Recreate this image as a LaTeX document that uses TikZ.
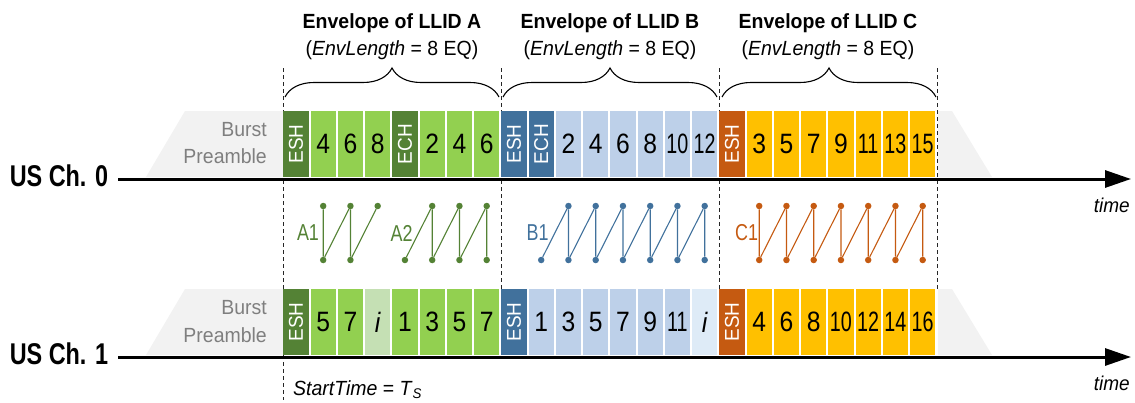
\documentclass[tikz,border=0pt]{standalone}
\usepackage{fontspec}
\usepackage{graphicx}
\setmainfont{Liberation Sans}
\newfontfamily\lsans{Liberation Sans}[FakeStretch=0.95]
\newfontfamily\chfont{Liberation Sans}[FakeStretch=0.78]
\newfontfamily\numfont{Liberation Sans}[FakeStretch=0.88]
\usetikzlibrary{arrows.meta,decorations.pathreplacing}
\definecolor{gD}{HTML}{548235}
\definecolor{gL}{HTML}{92D050}
\definecolor{gI}{HTML}{C5E0B4}
\definecolor{bD}{HTML}{41719C}
\definecolor{bL}{HTML}{BDD0E9}
\definecolor{bI}{HTML}{DEEBF7}
\definecolor{oD}{HTML}{C55A11}
\definecolor{yL}{HTML}{FFC000}
\definecolor{pre}{HTML}{F2F2F2}
\definecolor{txtgray}{HTML}{7F7F7F}
\newcommand{\rt}[1]{{\color{white}\lsans\fontsize{20}{20}\selectfont\rotatebox{90}{#1}}}
\newcommand{\tw}[1]{\scalebox{0.8}[1]{#1}}
\newcommand{\ii}{\itshape i}
\tikzset{
  cellbox/.style={minimum width=25.3pt, minimum height=66pt, inner sep=0pt, anchor=center,
    font=\numfont\fontsize{28}{28}\selectfont},
  envtitle/.style={font=\lsans\bfseries\fontsize{20.5}{22}\selectfont, anchor=base, inner sep=0pt},
  envsub/.style={font=\lsans\fontsize{20.5}{22}\selectfont, anchor=base, inner sep=0pt},
  chlabel/.style={font=\chfont\bfseries\fontsize{30}{30}\selectfont, inner sep=0pt},
  pretext/.style={font=\lsans\fontsize{20.5}{22}\selectfont, text=txtgray, anchor=base east, inner sep=0pt},
  timelabel/.style={font=\lsans\itshape\fontsize{20}{22}\selectfont, anchor=base east, inner sep=0pt},
  axisline/.style={line width=3pt, -{Triangle[length=26pt,width=17pt]}},
  vdash/.style={line width=0.9pt, black!85, dash pattern=on 4pt off 3pt},
  envbrace/.style={line width=1.1pt, decorate, decoration={brace, amplitude=29pt}},
  dot/.style={circle, fill=#1, inner sep=0pt, minimum size=6.5pt},
  zig/.style={draw=#1, line width=1.1pt},
  ziglabel/.style={font=\chfont\fontsize{23}{23}\selectfont, text=#1, inner sep=0pt},
}
\begin{document}
\begin{tikzpicture}[x=1pt,y=-1pt]
\useasboundingbox (0,0) rectangle (1135,402);
% burst preambles
\foreach \dy in {0,178}{
  \fill[pre] (146,177+\dy) -- (185,111+\dy) -- (283.3,111+\dy) -- (283.3,177+\dy) -- cycle;
  \fill[pre] (938,111+\dy) -- (952,111+\dy) -- (992,177+\dy) -- (938,177+\dy) -- cycle;
}
\node[pretext] (pb0) at (267,136.7) {Burst};
\node[pretext] (pp0) at (267,163.3) {Preamble};
\node[pretext] (pb1) at (267,314.7) {Burst};
\node[pretext] (pp1) at (267,342.3) {Preamble};
% dashed envelope boundaries
\draw[vdash] (283.3,68) -- (283.3,400);
\draw[vdash] (501.3,68) -- (501.3,289);
\draw[vdash] (719.3,68) -- (719.3,289);
\draw[vdash] (937.3,68) -- (937.3,289);
% braces
\draw[envbrace] (285,97) -- (499,97);
\draw[envbrace] (503,97) -- (717,97);
\draw[envbrace] (722,97) -- (936,97);
% titles
\node[envtitle] (tA) at (392,28) {Envelope of LLID A};
\node[envsub] (sA) at (392,55) {(\textit{EnvLength} = 8 EQ)};
\node[envtitle] (tB) at (610,28) {Envelope of LLID B};
\node[envsub] (sB) at (610,55) {(\textit{EnvLength} = 8 EQ)};
\node[envtitle] (tC) at (828,28) {Envelope of LLID C};
\node[envsub] (sC) at (828,55) {(\textit{EnvLength} = 8 EQ)};
% row 0 cells
\foreach \col/\txt [count=\k from 0] in {gD/\rt{ESH},gL/4,gL/6,gL/8,gD/\rt{ECH},gL/2,gL/4,gL/6,
  bD/\rt{ESH},bD/\rt{ECH},bL/2,bL/4,bL/6,bL/8,bL/\tw{10},bL/\tw{12},
  oD/\rt{ESH},yL/3,yL/5,yL/7,yL/9,yL/\tw{11},yL/\tw{13},yL/\tw{15}}{
  \node[cellbox, fill=\col] (c0-\k) at ({295.95+27.25*\k},144) {\txt};
}
% row 1 cells
\foreach \col/\txt [count=\k from 0] in {gD/\rt{ESH},gL/5,gL/7,gI/\ii,gL/1,gL/3,gL/5,gL/7,
  bD/\rt{ESH},bL/1,bL/3,bL/5,bL/7,bL/9,bL/\tw{11},bI/\ii,
  oD/\rt{ESH},yL/4,yL/6,yL/8,yL/\tw{10},yL/\tw{12},yL/\tw{14},yL/\tw{16}}{
  \node[cellbox, fill=\col] (c1-\k) at ({295.95+27.25*\k},322) {\txt};
}
% channel labels and axes
\node[chlabel] (ch0) at (59,176) {US Ch. 0};
\node[chlabel] (ch1) at (59,354) {US Ch. 1};
\coordinate (s0) at (118,179);
\coordinate (e0) at (1131,179);
\coordinate (s1) at (118,357);
\coordinate (e1) at (1131,357);
\draw[axisline] (s0) -- (e0);
\draw[axisline] (s1) -- (e1);
\node[timelabel] (time0) at (1130,212) {time};
\node[timelabel] (time1) at (1130,390) {time};
\node[font=\lsans\fontsize{20.5}{22}\selectfont, anchor=base west, inner sep=0pt] (st) at (293,395)
  {\textit{StartTime} = \textit{T}\textsubscript{\textit{\fontsize{14}{14}\selectfont S}}};
% zigzag dots
\foreach \k in {1,2,3}{\node[dot=gD] (t\k) at ({295.95+27.25*\k},206) {};}
\foreach \k in {1,2}{\node[dot=gD] (b\k) at ({295.95+27.25*\k},260) {};}
\foreach \k in {5,6,7}{\node[dot=gD] (t\k) at ({295.95+27.25*\k},206) {};}
\foreach \k in {4,5,6,7}{\node[dot=gD] (b\k) at ({295.95+27.25*\k},260) {};}
\foreach \k in {10,...,15}{\node[dot=bD] (t\k) at ({295.95+27.25*\k},206) {};}
\foreach \k in {9,...,15}{\node[dot=bD] (b\k) at ({295.95+27.25*\k},260) {};}
\foreach \k in {17,...,23}{\node[dot=oD] (t\k) at ({295.95+27.25*\k},206) {};}
\foreach \k in {17,...,23}{\node[dot=oD] (b\k) at ({295.95+27.25*\k},260) {};}
% zigzag lines
\draw[zig=gD] (t1) -- (b1) -- (t2) -- (b2) -- (t3);
\draw[zig=gD] (b4) -- (t5) -- (b5) -- (t6) -- (b6) -- (t7) -- (b7);
\draw[zig=bD] (b9) -- (t10) -- (b10) -- (t11) -- (b11) -- (t12) -- (b12) -- (t13) -- (b13) -- (t14) -- (b14) -- (t15) -- (b15);
\draw[zig=oD] (t17) -- (b17) -- (t18) -- (b18) -- (t19) -- (b19) -- (t20) -- (b20) -- (t21) -- (b21) -- (t22) -- (b22) -- (t23) -- (b23);
\node[ziglabel=gD] (lA1) at (308,233) {A1};
\node[ziglabel=gD] (lA2) at (401.7,233) {A2};
\node[ziglabel=bD] (lB1) at (537.5,233) {B1};
\node[ziglabel=oD] (lC1) at (746.7,233) {C1};
\end{tikzpicture}
\end{document}
